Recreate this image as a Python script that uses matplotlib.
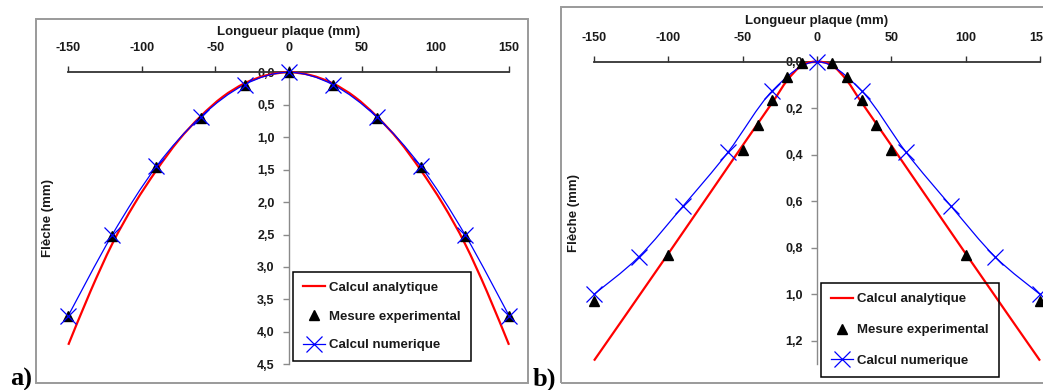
import numpy as np
import matplotlib
matplotlib.use("Agg")
import matplotlib.pyplot as plt
from matplotlib.path import Path
from matplotlib.patches import PathPatch, Rectangle
from matplotlib.lines import Line2D
from matplotlib.ticker import FuncFormatter, MultipleLocator

# ---------------- data ----------------
# panel a)
a_x_calc = [-150, -135, -120, -105, -90, -75, -60, -45, -30, -15, 0,
            15, 30, 45, 60, 75, 90, 105, 120, 135, 150]
a_y_calc = [4.20, 3.38, 2.64, 2.03, 1.51, 1.05, 0.68, 0.38, 0.17, 0.045, 0.0,
            0.045, 0.17, 0.38, 0.68, 1.05, 1.51, 2.03, 2.64, 3.38, 4.20]
a_x_pts = [-150, -120, -90, -60, -30, 0, 30, 60, 90, 120, 150]
a_y_exp = [3.75, 2.52, 1.46, 0.70, 0.20, 0.0, 0.20, 0.70, 1.46, 2.52, 3.75]
a_y_num = [3.75, 2.50, 1.45, 0.69, 0.19, 0.0, 0.19, 0.69, 1.45, 2.50, 3.75]

# panel b)
b_x_calc = [-150, -100, -50, -30, -20, -10, 0, 10, 20, 30, 50, 100, 150]
b_y_calc = [1.285, 0.825, 0.36, 0.175, 0.08, 0.015, 0.0,
            0.015, 0.08, 0.175, 0.36, 0.825, 1.285]
b_x_exp = [-150, -100, -50, -40, -30, -20, -10, 10, 20, 30, 40, 50, 100, 150]
b_y_exp = [1.03, 0.83, 0.38, 0.27, 0.165, 0.065, 0.005,
           0.005, 0.065, 0.165, 0.27, 0.38, 0.83, 1.03]
b_x_num = [-150, -120, -90, -60, -30, 0, 30, 60, 90, 120, 150]
b_y_num = [1.0, 0.84, 0.62, 0.39, 0.125, 0.0, 0.125, 0.39, 0.62, 0.84, 1.0]

x_ticks = [-150, -100, -50, 0, 50, 100, 150]
a_y_ticks = [0.0, 0.5, 1.0, 1.5, 2.0, 2.5, 3.0, 3.5, 4.0, 4.5]
b_y_ticks = [0.0, 0.2, 0.4, 0.6, 0.8, 1.0, 1.2]

labels = ["Calcul analytique", "Mesure experimental", "Calcul numerique"]
x_title = "Longueur plaque (mm)"
y_title = "Flèche (mm)"

# ---------------- style ----------------
W, H = 1043, 390
FONT = ["Liberation Sans Narrow", "Liberation Sans", "DejaVu Sans"]
plt.rcParams["font.family"] = FONT
plt.rcParams["font.weight"] = "bold"
TXT = "#1a1a1a"

fig = plt.figure(figsize=(W / 100, H / 100), dpi=100)


def px_axes(l, t, r, b):
    return fig.add_axes([l / W, 1 - b / H, (r - l) / W, (b - t) / H])


def smooth_path(x, y):
    pts = np.column_stack([x, y]).astype(float)
    n = len(pts)
    verts = [pts[0]]
    codes = [Path.MOVETO]
    for i in range(n - 1):
        p0 = pts[i - 1] if i > 0 else pts[i]
        p1 = pts[i]
        p2 = pts[i + 1]
        p3 = pts[i + 2] if i + 2 < n else pts[i + 1]
        verts += [p1 + (p2 - p0) / 6.0, p2 - (p3 - p1) / 6.0, p2]
        codes += [Path.CURVE4] * 3
    return Path(verts, codes)


def setup(ax, ymax, yticks):
    ax.set_xlim(-150, 150)
    ax.set_ylim(ymax, 0)
    ax.patch.set_visible(False)
    for s in ("right", "bottom"):
        ax.spines[s].set_visible(False)
    ax.spines["top"].set_color("#333333")
    ax.spines["top"].set_linewidth(1.3)
    ax.spines["left"].set_position(("data", 0))
    ax.spines["left"].set_color("#8a8a8a")
    ax.spines["left"].set_linewidth(1.0)
    ax.xaxis.tick_top()
    ax.set_xticks(x_ticks)
    ax.set_yticks(yticks)
    ax.xaxis.set_major_formatter(FuncFormatter(lambda v, p: f"{int(round(v))}"))
    ax.yaxis.set_major_formatter(FuncFormatter(lambda v, p: f"{v:.1f}".replace(".", ",")))
    ax.tick_params(axis="x", direction="out", length=4, width=1, color="#333333",
                   pad=9, labelsize=9, labelcolor=TXT)
    ax.tick_params(axis="y", direction="out", length=4, width=1, color="#8a8a8a",
                   pad=6, labelsize=9, labelcolor=TXT)
    for t in ax.get_xticklabels() + ax.get_yticklabels():
        t.set_fontweight("bold")


def draw(ax, xc, yc, xe, ye, xn, yn):
    ax.add_patch(PathPatch(smooth_path(xc, yc), fill=False, edgecolor="#ff0000",
                           lw=1.6, clip_on=False, zorder=3))
    ax.add_patch(PathPatch(smooth_path(xn, yn), fill=False, edgecolor="#0000ff",
                           lw=0.9, clip_on=False, zorder=4))
    ax.plot(xe, ye, ls="none", marker="^", ms=7, color="black", clip_on=False, zorder=5)
    ax.plot(xn, yn, ls="none", marker="x", ms=11, mew=0.9, color="#0000ff",
            clip_on=False, zorder=6)


handles = [
    Line2D([], [], color="#ff0000", lw=1.6),
    Line2D([], [], ls="none", marker="^", ms=7, color="black"),
    Line2D([], [], color="#0000ff", lw=0.9, marker="x", ms=11, mew=0.9),
]


def legend(ax, left, top, spacing):
    lg = ax.legend(handles, labels, loc="upper left",
                   bbox_to_anchor=(left / W, 1 - top / H), bbox_transform=fig.transFigure,
                   borderaxespad=0, fancybox=False, frameon=True, framealpha=1,
                   edgecolor="black", facecolor="none", handlelength=1.7,
                   handletextpad=0.3, labelspacing=spacing, borderpad=0.75,
                   prop={"family": FONT, "weight": "bold", "size": 9.5})
    lg.get_frame().set_linewidth(1.1)
    for t in lg.get_texts():
        t.set_color(TXT)
    lg.set_zorder(10)
    return lg


# frames around the two panels
fig.add_artist(Rectangle((35.5 / W, 1 - 382.7 / H), (528 - 35.5) / W, (382.7 - 18.5) / H,
                         transform=fig.transFigure, fill=False, edgecolor="#9a9a9a", lw=1.4))
fig.add_artist(Rectangle((561 / W, 1 - 382.7 / H), (1060 - 561) / W, (382.7 - 7.3) / H,
                         transform=fig.transFigure, fill=False, edgecolor="#9a9a9a", lw=1.4))

# panel a
axa = px_axes(68.3, 72.3, 509, 364.3)
setup(axa, 4.5, a_y_ticks)
draw(axa, a_x_calc, a_y_calc, a_x_pts, a_y_exp, a_x_pts, a_y_num)
legend(axa, 293, 271.7, 1.25)
fig.text(288.7 / W, 1 - 32 / H, x_title, ha="center", va="center", fontsize=9.5,
         fontweight="bold", color=TXT)
fig.text(48 / W, 1 - 218 / H, y_title, ha="center", va="center", rotation=90,
         fontsize=9.5, fontweight="bold", color=TXT)
fig.text(10 / W, 1 - 386 / H, "a)", ha="left", va="baseline", fontsize=19,
         fontweight="bold", family=["Liberation Serif", "DejaVu Serif"], color="black")

# panel b
axb = px_axes(594, 61.7, 1040, 364.1)
setup(axb, 1.3, b_y_ticks)
draw(axb, b_x_calc, b_y_calc, b_x_exp, b_y_exp, b_x_num, b_y_num)
legend(axb, 821, 283.3, 1.4)
fig.text(816.7 / W, 1 - 21 / H, x_title, ha="center", va="center", fontsize=9.5,
         fontweight="bold", color=TXT)
fig.text(574 / W, 1 - 213 / H, y_title, ha="center", va="center", rotation=90,
         fontsize=9.5, fontweight="bold", color=TXT)
fig.text(533 / W, 1 - 386 / H, "b)", ha="left", va="baseline", fontsize=19,
         fontweight="bold", family=["Liberation Serif", "DejaVu Serif"], color="black")

fig.savefig("out.png", dpi=100)
